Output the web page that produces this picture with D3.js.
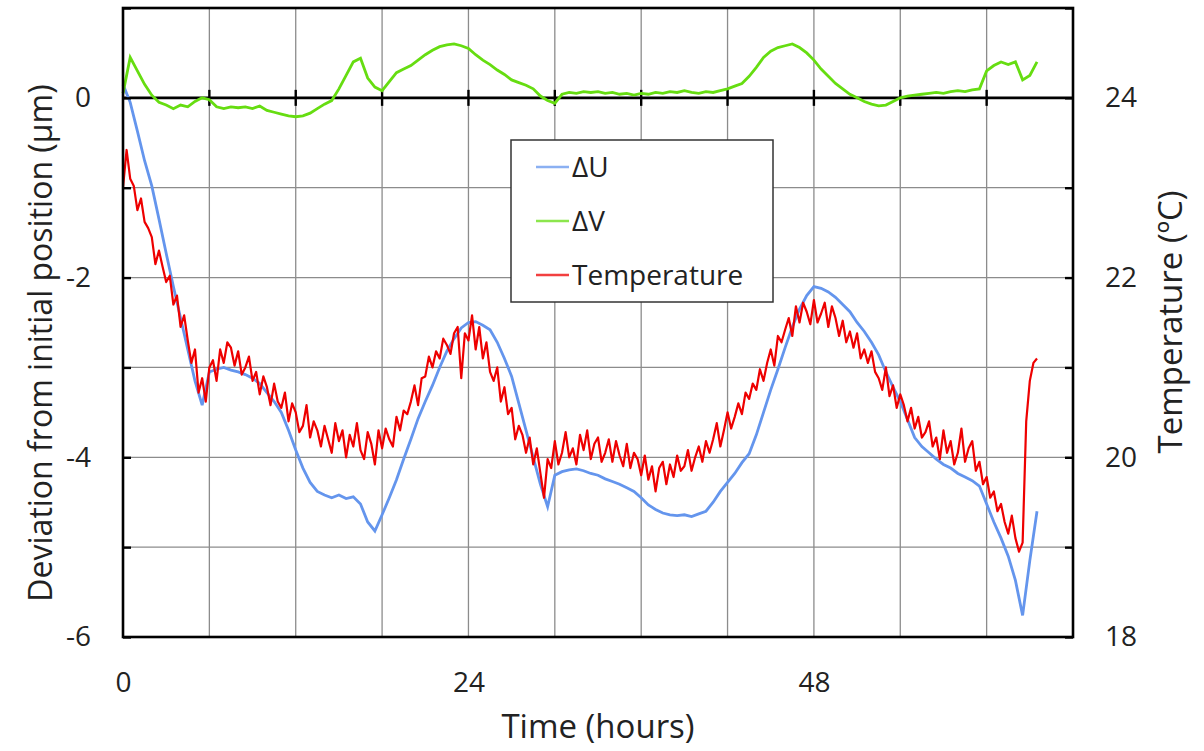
<!DOCTYPE html>
<html>
<head>
<meta charset="utf-8">
<script src="https://cdn.jsdelivr.net/npm/d3@7"></script>
<style>
  body { margin: 0; background: #fff; }
  svg text { font-family: "Open Sans", sans-serif; fill: #222; }
</style>
</head>
<body>
<div id="chart"></div>
<script>
// Sampling interval of the logged series (hours)
const uvStep = 0.5;
const tempStep = 0.25;

// ΔU deviation (µm), one value every 0.5 h from t = 0
const deltaU = [
    0.15, -0.05, -0.37, -0.70, -0.98, -1.35, -1.73, -2.10, -2.45, -2.80,
    -3.15, -3.42, -3.05, -3.02, -3.00, -3.03, -3.05, -3.08, -3.12, -3.18,
    -3.28, -3.38, -3.50, -3.70, -3.92, -4.12, -4.28, -4.38, -4.42, -4.45,
    -4.42, -4.46, -4.44, -4.52, -4.72, -4.82, -4.64, -4.45, -4.25, -4.02,
    -3.80, -3.57, -3.38, -3.20, -3.00, -2.82, -2.68, -2.56, -2.50, -2.49,
    -2.53, -2.58, -2.72, -2.90, -3.10, -3.40, -3.70, -4.00, -4.30, -4.55,
    -4.20, -4.16, -4.14, -4.13, -4.15, -4.18, -4.20, -4.24, -4.27, -4.30,
    -4.34, -4.38, -4.45, -4.53, -4.58, -4.62, -4.64, -4.65, -4.64, -4.66,
    -4.63, -4.60, -4.50, -4.38, -4.28, -4.18, -4.06, -3.96, -3.75, -3.50,
    -3.25, -3.02, -2.78, -2.55, -2.35, -2.20, -2.10, -2.12, -2.16, -2.22,
    -2.30, -2.38, -2.50, -2.60, -2.72, -2.86, -3.05, -3.22, -3.38, -3.58,
    -3.78, -3.88, -3.95, -4.02, -4.08, -4.12, -4.18, -4.22, -4.26, -4.32,
    -4.52, -4.72, -4.90, -5.10, -5.37, -5.76, -5.15, -4.60
];

// ΔV deviation (µm), one value every 0.5 h from t = 0
const deltaV = [
    0.05, 0.45, 0.30, 0.15, 0.03, -0.05, -0.08, -0.12, -0.08, -0.10,
    -0.04, 0.00, -0.02, -0.10, -0.12, -0.10, -0.11, -0.10, -0.12, -0.09,
    -0.14, -0.16, -0.18, -0.20, -0.21, -0.20, -0.17, -0.12, -0.07, -0.03,
    0.10, 0.25, 0.40, 0.44, 0.22, 0.12, 0.08, 0.18, 0.28, 0.32,
    0.36, 0.42, 0.48, 0.53, 0.57, 0.59, 0.60, 0.58, 0.55, 0.48,
    0.42, 0.37, 0.31, 0.26, 0.20, 0.17, 0.14, 0.10, 0.02, -0.03,
    -0.06, 0.04, 0.06, 0.05, 0.07, 0.06, 0.07, 0.05, 0.06, 0.04,
    0.05, 0.03, 0.05, 0.04, 0.06, 0.05, 0.07, 0.06, 0.08, 0.06,
    0.05, 0.07, 0.06, 0.08, 0.10, 0.13, 0.16, 0.24, 0.34, 0.45,
    0.52, 0.56, 0.58, 0.60, 0.56, 0.50, 0.42, 0.32, 0.24, 0.16,
    0.10, 0.04, 0.00, -0.04, -0.07, -0.09, -0.08, -0.04, 0.00, 0.02,
    0.03, 0.04, 0.05, 0.06, 0.05, 0.07, 0.08, 0.07, 0.09, 0.10,
    0.30, 0.36, 0.40, 0.37, 0.40, 0.20, 0.25, 0.40
];

// Temperature (°C), one value every 0.25 h from t = 0
const temperature = [
    23.00, 23.42, 23.10, 23.02, 22.75, 22.88, 22.62, 22.55,
    22.45, 22.15, 22.30, 22.12, 21.95, 22.02, 21.70, 21.80,
    21.45, 21.58, 21.30, 21.05, 21.20, 20.72, 20.88, 20.62,
    21.00, 21.08, 20.85, 21.20, 21.05, 21.28, 21.22, 21.02,
    21.18, 20.92, 21.00, 21.12, 20.85, 20.95, 20.70, 20.90,
    20.78, 20.58, 20.82, 20.62, 20.55, 20.72, 20.40, 20.60,
    20.50, 20.28, 20.35, 20.58, 20.22, 20.40, 20.30, 20.12,
    20.35, 20.20, 20.05, 20.38, 20.18, 20.30, 20.00, 20.25,
    20.12, 20.38, 20.08, 19.98, 20.28, 20.15, 19.92, 20.30,
    20.10, 20.32, 20.20, 20.12, 20.45, 20.30, 20.52, 20.48,
    20.62, 20.80, 20.58, 20.88, 20.90, 21.12, 21.00, 21.18,
    21.10, 21.32, 21.25, 21.15, 21.38, 21.45, 20.88, 21.38,
    21.30, 21.58, 21.20, 21.45, 21.10, 21.28, 20.95, 20.85,
    21.00, 20.62, 20.78, 20.48, 20.55, 20.20, 20.35, 20.25,
    20.05, 20.22, 19.92, 20.10, 19.82, 19.55, 19.98, 19.88,
    20.18, 19.92, 20.05, 20.28, 20.00, 20.10, 19.92, 20.25,
    20.08, 20.30, 19.98, 20.15, 20.22, 19.95, 20.05, 20.20,
    19.95, 20.18, 20.02, 19.90, 20.15, 19.88, 20.05, 19.98,
    19.80, 20.02, 19.75, 19.90, 19.62, 19.88, 19.95, 19.70,
    19.92, 19.78, 20.02, 19.85, 19.90, 20.08, 19.85, 20.00,
    20.12, 19.95, 20.18, 20.05, 20.20, 20.38, 20.12, 20.30,
    20.50, 20.32, 20.45, 20.60, 20.48, 20.72, 20.65, 20.82,
    20.75, 20.98, 20.85, 21.05, 21.20, 21.02, 21.35, 21.28,
    21.42, 21.55, 21.35, 21.68, 21.50, 21.72, 21.62, 21.48,
    21.75, 21.50, 21.60, 21.72, 21.45, 21.68, 21.55, 21.35,
    21.52, 21.28, 21.40, 21.22, 21.38, 21.10, 21.20, 21.05,
    21.18, 20.95, 20.88, 20.75, 21.00, 20.68, 20.80, 20.55,
    20.70, 20.58, 20.40, 20.55, 20.32, 20.45, 20.22, 20.28,
    20.40, 20.12, 20.22, 19.98, 20.30, 20.05, 20.18, 19.92,
    20.05, 20.32, 19.95, 20.10, 20.18, 19.85, 19.95, 19.70,
    19.78, 19.55, 19.62, 19.40, 19.48, 19.28, 19.15, 19.35,
    19.10, 18.95, 19.05, 20.40, 20.85, 21.05, 21.10
];

// Tick labels and legend
const timeTicks = [0, 24, 48];
const deviationTicks = [-6, -4, -2, 0];
const temperatureTicks = [18, 20, 22, 24];
const legendLabels = ['ΔU', 'ΔV', 'Temperature'];
const seriesColors = ['#6495ed', '#66dd11', '#ee0000'];

// SVG Canvas Setup
const width = 1204;
const height = 751;
const margin = { top: 8, right: 131, bottom: 114, left: 123 };
const svg = d3.select('#chart')
    .append('svg')
    .attr('width', width)
    .attr('height', height);

// Scales
const x = d3.scaleLinear().domain([0, 66]).range([margin.left, width - margin.right]);
const y = d3.scaleLinear().domain([-6, 1]).range([height - margin.bottom, margin.top]);
const yTemp = d3.scaleLinear().domain([18, 25]).range([height - margin.bottom, margin.top]);

// Gridlines (every 6 h, every 1 µm)
const grid = svg.append('g').attr('id', 'grid');
grid.selectAll('line.v')
    .data(d3.range(6, 66, 6))
    .join('line')
    .attr('class', 'v')
    .attr('x1', d => x(d)).attr('x2', d => x(d))
    .attr('y1', y(1)).attr('y2', y(-6))
    .attr('stroke', '#8c8c8c')
    .attr('stroke-width', 1.3);
grid.selectAll('line.h')
    .data(d3.range(-5, 0))
    .join('line')
    .attr('class', 'h')
    .attr('x1', x(0)).attr('x2', x(66))
    .attr('y1', d => y(d)).attr('y2', d => y(d))
    .attr('stroke', '#8c8c8c')
    .attr('stroke-width', 1.3);

// Zero line with crossing ticks
svg.append('line')
    .attr('x1', x(0)).attr('x2', x(66))
    .attr('y1', y(0)).attr('y2', y(0))
    .attr('stroke', '#000')
    .attr('stroke-width', 2.6);
svg.append('g').selectAll('line')
    .data(d3.range(6, 66, 6))
    .join('line')
    .attr('x1', d => x(d)).attr('x2', d => x(d))
    .attr('y1', y(0) - 8).attr('y2', y(0) + 8)
    .attr('stroke', '#000')
    .attr('stroke-width', 2.4);

// Data lines
const lineUV = d3.line().x((d, i) => x(i * uvStep)).y(d => y(d));
const lineTemp = d3.line().x((d, i) => x(i * tempStep)).y(d => yTemp(d));
const series = svg.append('g').attr('id', 'series').attr('fill', 'none');
series.append('path').attr('d', lineUV(deltaU))
    .attr('stroke', seriesColors[0]).attr('stroke-width', 2.8);
series.append('path').attr('d', lineUV(deltaV))
    .attr('stroke', seriesColors[1]).attr('stroke-width', 2.8);
series.append('path').attr('d', lineTemp(temperature))
    .attr('stroke', seriesColors[2]).attr('stroke-width', 2.2)
    .attr('stroke-linejoin', 'round');

// Axes
const leftAxis = svg.append('g')
    .attr('transform', `translate(${x(0)},0)`)
    .call(d3.axisLeft(y).tickValues(d3.range(-6, 2)).tickSize(-8).tickPadding(32)
        .tickFormat(d => deviationTicks.includes(d) ? d : ''));
const rightAxis = svg.append('g')
    .attr('transform', `translate(${x(66)},0)`)
    .call(d3.axisRight(yTemp).tickValues(d3.range(18, 26)).tickSize(-8).tickPadding(32)
        .tickFormat(d => temperatureTicks.includes(d) ? d : ''));
const bottomAxis = svg.append('g')
    .attr('transform', `translate(0,${y(-6)})`)
    .call(d3.axisBottom(x).tickValues(timeTicks).tickSize(0).tickPadding(35));

[leftAxis, rightAxis, bottomAxis].forEach(a => {
    a.select('.domain').remove();
    a.selectAll('line').attr('stroke', '#000').attr('stroke-width', 2.4);
    a.selectAll('text')
        .attr('font-family', '"Open Sans", sans-serif')
        .attr('font-size', 28)
        .attr('fill', '#222');
});

// Plot frame
svg.append('rect')
    .attr('x', x(0)).attr('y', y(1))
    .attr('width', x(66) - x(0)).attr('height', y(-6) - y(1))
    .attr('fill', 'none')
    .attr('stroke', '#000')
    .attr('stroke-width', 2.6);

// Legend
const legend = svg.append('g').attr('transform', 'translate(511,140)');
legend.append('rect')
    .attr('width', 262).attr('height', 162)
    .attr('fill', '#fff')
    .attr('stroke', '#333')
    .attr('stroke-width', 1.5);
const items = legend.selectAll('g.item')
    .data(legendLabels)
    .join('g')
    .attr('class', 'item')
    .attr('transform', (d, i) => `translate(0,${27 + i * 54})`);
items.append('line')
    .attr('x1', 25).attr('x2', 58)
    .attr('stroke', (d, i) => seriesColors[i])
    .attr('stroke-opacity', 0.75)
    .attr('stroke-width', 2.5);
items.append('text')
    .attr('x', 61).attr('y', 10)
    .attr('font-size', 28)
    .text(d => d);

// Axis titles
svg.append('text')
    .attr('transform', 'translate(52,343) rotate(-90)')
    .attr('text-anchor', 'middle')
    .attr('font-size', 32)
    .text('Deviation from initial position (µm)');
svg.append('text')
    .attr('transform', 'translate(1182,322) rotate(-90)')
    .attr('text-anchor', 'middle')
    .attr('font-size', 33)
    .text('Temperature (ºC)');
svg.append('text')
    .attr('x', 598).attr('y', 738)
    .attr('text-anchor', 'middle')
    .attr('font-size', 33)
    .text('Time (hours)');
</script>
</body>
</html>
